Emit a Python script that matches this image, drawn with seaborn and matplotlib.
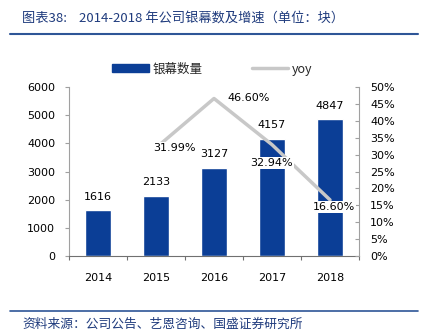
import matplotlib
matplotlib.use("Agg")
import matplotlib.pyplot as plt
import seaborn as sns
import numpy as np
import pandas as pd
from matplotlib.lines import Line2D
from matplotlib.patches import Patch

years = ["2014", "2015", "2016", "2017", "2018"]
screens = [1616, 2133, 3127, 4157, 4847]
yoy_years = ["2015", "2016", "2017", "2018"]
yoy = [31.99, 46.60, 32.94, 16.60]
left_ticks = [0, 1000, 2000, 3000, 4000, 5000, 6000]
right_ticks = [0, 5, 10, 15, 20, 25, 30, 35, 40, 45, 50]

title = "图表38:    2014-2018 年公司银幕数及增速（单位：块）"
source = "资料来源：公司公告、艺恩咨询、国盛证券研究所"

sns.set_theme(style="white")
plt.rcParams['font.family'] = ['DejaVu Sans', 'Noto Sans CJK SC']

BAR = "#0B3E96"
GRAY = "#C8C8C8"
TITLE_C = "#1F3B7D"
CJK = ["Noto Sans CJK SC", "DejaVu Sans"]

fig = plt.figure(figsize=(4.25, 3.35), dpi=100)
ax = fig.add_axes([69/425, 1-256/335, 290/425, 169/335])

df = pd.DataFrame({"year": years, "screens": screens})
sns.barplot(data=df, x="year", y="screens", color=BAR, width=0.45, ax=ax,
            saturation=1, zorder=2)
ax.set_xlim(-0.5, 4.5)
ax.set_ylim(0, 6000)
ax.set_yticks(left_ticks)
ax.set_xlabel("")
ax.set_ylabel("")

for i, v in enumerate(screens):
    ax.annotate(str(v), (i, v), xytext=(0, 10), textcoords="offset points",
                ha="center", va="center", fontsize=8, color="black", zorder=6)

ax2 = ax.twinx()
xpos = [years.index(y) for y in yoy_years]
ldf = pd.DataFrame({"x": xpos, "yoy": yoy})
sns.lineplot(data=ldf, x="x", y="yoy", ax=ax2, color=GRAY, linewidth=2.5, zorder=3)
ax2.set_ylim(0, 50)
ax2.set_yticks(right_ticks)
ax2.set_yticklabels([f"{t}%" for t in right_ticks])
ax2.set_ylabel("")
ax2.set_xlabel("")
ax2.set_xlim(-0.5, 4.5)

offsets = [(-2, 0, "left"), (10, 0, "left"), (0, -13, "center"), (3, -5, "center")]
for (x, v, (dx, dy, ha)) in zip(xpos, yoy, offsets):
    ax2.annotate(f"{v:.2f}%", (x, v), xytext=(dx, dy), textcoords="offset points",
                 ha=ha, va="center", fontsize=8, color="black", zorder=7,
                 bbox=dict(boxstyle="square,pad=0.1", fc="white", ec="none"))

# spines and ticks
for a in (ax, ax2):
    for s in a.spines.values():
        s.set_visible(False)
ax.spines["left"].set_visible(True)
ax.spines["left"].set_color("#A0A0A0")
ax.spines["left"].set_linewidth(0.8)
ax.spines["bottom"].set_visible(True)
ax.spines["bottom"].set_color("#707070")
ax.spines["bottom"].set_linewidth(0.8)
ax2.spines["right"].set_visible(True)
ax2.spines["right"].set_color("#A0A0A0")
ax2.spines["right"].set_linewidth(0.8)

ax.tick_params(axis="y", left=True, length=3, width=0.8, color="#A0A0A0",
               labelsize=8, pad=7, labelcolor="black")
ax.tick_params(axis="x", bottom=False, labelsize=8, pad=6, labelcolor="black")
ax.set_xticks(np.arange(-0.5, 5, 1), minor=True)
ax.tick_params(axis="x", which="minor", bottom=True, length=3, width=0.8,
               color="#707070", direction="out")
ax2.tick_params(axis="y", right=True, length=3, width=0.8, color="#A0A0A0",
                direction="in", labelsize=8, pad=8, labelcolor="black")

ax.set_zorder(1)
ax2.set_zorder(2)
ax.patch.set_visible(False)
ax2.patch.set_visible(False)

# legend
fig.legend([Patch(facecolor=BAR, edgecolor=BAR)], ["银幕数量"], loc="center left",
           bbox_to_anchor=(101/425, 1-69/335), frameon=False,
           handlelength=2.9, handleheight=0.55, handletextpad=0.3,
           prop={"family": CJK, "size": 9})
fig.legend([Line2D([0], [0], color=GRAY, linewidth=2.5)], ["yoy"], loc="center left",
           bbox_to_anchor=(241/425, 1-69/335), frameon=False,
           handlelength=2.9, handletextpad=0.3,
           prop={"family": CJK, "size": 9})

# title and source
fig.text(22/425, 1-18/335, title, fontsize=9.5, color=TITLE_C, style="italic",
         ha="left", va="center", family=CJK)
fig.add_artist(Line2D([10/425, 418/425], [1-34/335, 1-34/335], color="#2E5597",
                      linewidth=1.5, transform=fig.transFigure))
fig.add_artist(Line2D([10/425, 418/425], [1-311/335, 1-311/335], color="#2E5597",
                      linewidth=1.2, transform=fig.transFigure))
fig.text(22/425, 1-324/335, source, fontsize=9.2, color=TITLE_C, style="italic",
         ha="left", va="center", family=CJK)

fig.savefig("out.png", dpi=100)
